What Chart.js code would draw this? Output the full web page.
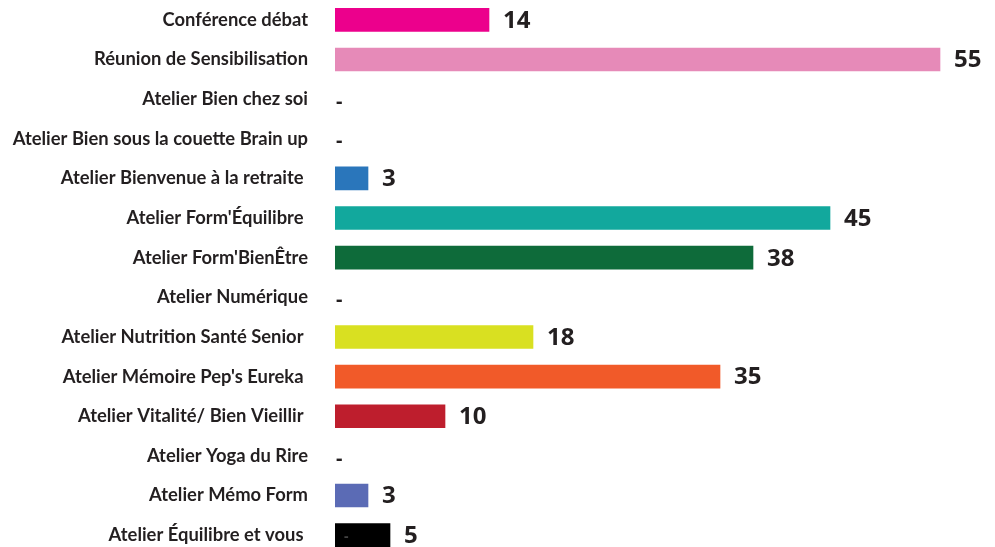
<!DOCTYPE html>
<html><head><meta charset="utf-8">
<script src="https://cdn.jsdelivr.net/npm/chart.js@4/dist/chart.umd.min.js"></script>
<style>html,body{margin:0;padding:0;background:#fff;overflow:hidden;width:995px;height:547px}
canvas{display:block;margin-top:-11px}</style>
</head><body><canvas id="c" width="995" height="577"></canvas>
<script>
const categories = ["Conférence débat","Réunion de Sensibilisation","Atelier Bien chez soi","Atelier Bien sous la couette Brain up","Atelier Bienvenue à la retraite ","Atelier Form'Équilibre ","Atelier Form'BienÊtre","Atelier Numérique","Atelier Nutrition Santé Senior ","Atelier Mémoire Pep's Eureka ","Atelier Vitalité/ Bien Vieillir ","Atelier Yoga du Rire","Atelier Mémo Form","Atelier Équilibre et vous "];
const values = [14,55,0,0,3,45,38,0,18,35,10,0,3,5];
const colors = ["#EC008C","#E68AB8","rgba(0,0,0,0)","rgba(0,0,0,0)","#2A76BB","#12A89D","#0E6B3A","rgba(0,0,0,0)","#D9E021","#F15A29","#BE1E2D","rgba(0,0,0,0)","#5B6BB5","#000000"];

const valueLabels = {
  id:'valueLabels',
  afterDatasetsDraw(chart){
    const ctx = chart.ctx, meta = chart.getDatasetMeta(0), xs = chart.scales.x;
    ctx.save();
    ctx.fillStyle = '#231f20';
    ctx.textBaseline = 'middle';
    ctx.textAlign = 'left';
    meta.data.forEach((bar,i)=>{
      const v = values[i];
      if(v===0){
        ctx.font = 'bold 20px "Open Sans"';
        ctx.fillText('-', xs.getPixelForValue(0)+1, bar.y+3);
      } else {
        ctx.font = 'bold 24px "Open Sans"';
        ctx.fillText(String(v), bar.x+14, bar.y+1);
      }
    });
    const last = meta.data[meta.data.length-1];
    ctx.fillStyle = '#444444';
    ctx.font = 'bold 14px "Open Sans"';
    ctx.fillText('-', xs.getPixelForValue(0)+9, last.y+2);
    ctx.restore();
  }
};

new Chart(document.getElementById('c'),{
  type:'bar',
  data:{labels:categories,datasets:[{data:values,backgroundColor:colors,barThickness:23,borderWidth:0}]},
  options:{
    indexAxis:'y',responsive:false,animation:false,
    layout:{padding:0},
    plugins:{legend:{display:false},tooltip:{enabled:false}},
    scales:{
      x:{display:false,min:0,max:60},
      y:{
        grid:{display:false,drawTicks:true,tickLength:27},
        border:{display:false},
        afterFit(s){s.width=335;},
        ticks:{color:'#231f20',padding:0,font:{family:'Lato',weight:'bold',size:18.4},autoSkip:false}
      }
    }
  },
  plugins:[valueLabels]
});
</script></body></html>
